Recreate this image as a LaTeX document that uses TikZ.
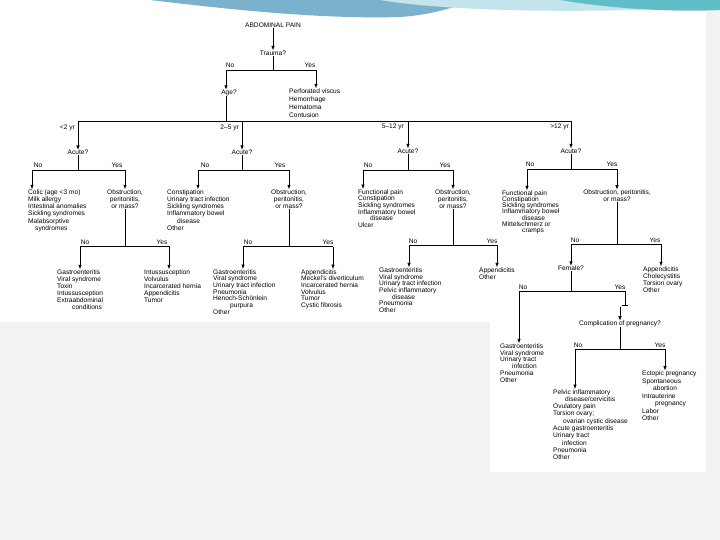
\documentclass[tikz,border=0pt]{standalone}
\usepackage{fontspec}
\setmainfont{Liberation Sans}
\usetikzlibrary{arrows.meta}
\definecolor{bggray}{RGB}{242,242,242}
\definecolor{swblue}{RGB}{122,178,206}
\definecolor{swlight}{RGB}{196,228,236}
\definecolor{swteal}{RGB}{96,190,200}
\begin{document}
\begin{tikzpicture}[x=1pt,y=-1pt,
  every node/.style={inner sep=0pt, font=\fontsize{6.6}{7}\selectfont},
  lst/.style={align=left, anchor=north west, font=\fontsize{6.6}{#1}\selectfont},
  lst/.default=7,
  ctr/.style={align=center, anchor=north},
  ln/.style={line width=0.7pt, draw=black},
  arr/.style={ln, -{Latex[length=4.5pt,width=3.4pt]}}]
\useasboundingbox (0,0) rectangle (720,540);
% background
\fill[bggray] (0,0) rectangle (720,540);
\fill[white] (0,0) -- (706,0) -- (706,472) -- (490,472) -- (490,322) -- (0,322) -- cycle;
\fill[swblue] (150,0) .. controls (250,12) and (330,19) .. (400,17) .. controls (430,15) and (455,8) .. (470,0) -- cycle;
\fill[swlight] (380,0) .. controls (450,12) and (600,14) .. (720,6) -- (720,0) -- cycle;
\fill[swteal] (560,0) .. controls (620,10) and (680,12) .. (720,10) -- (720,0) -- cycle;

% top
\node (title) at (273,25) {ABDOMINAL PAIN};
\node (trauma) at (273,53) {Trauma?};
\draw[arr] (title.south) -- (trauma.north);
\coordinate (tL) at (226,70); \coordinate (tR) at (316,70);
\draw[ln] (trauma.south) -- (trauma.south |- tL);
\draw[ln] (tL) -- (tR);
\node (tNo) at (230,65.5) {No};
\node (tYes) at (310,65.5) {Yes};
\node (age) at (229,93) {Age?};
\node[lst=7.9] (inj) at (289,88.4) {Perforated viscus\\Hemorrhage\\Hematoma\\Contusion};
\draw[arr] (tL) -- (tL |- age.north);
\draw[arr] (tR) -- (tR |- inj.north);

% age split
\coordinate (a1) at (78,121); \coordinate (a2) at (242,121);
\coordinate (a3) at (408,121); \coordinate (a4) at (571,121);
\coordinate (aM) at (226,121);
\draw[ln] (aM |- age.south) -- (aM);
\draw[ln] (a1) -- (a4);
\node[anchor=east] (g1) at (75,128) {<2 yr};
\node[anchor=east] (g2) at (239,128) {2--5 yr};
\node[anchor=east] (g3) at (404,127) {5--12 yr};
\node[anchor=east] (g4) at (569,127) {>12 yr};
\node (ac1) at (78,152.5) {Acute?};
\node (ac2) at (242,152.5) {Acute?};
\node (ac3) at (408,151) {Acute?};
\node (ac4) at (571,151) {Acute?};
\draw[arr] (a1) -- (ac1.north);
\draw[arr] (a2) -- (ac2.north);
\draw[arr] (a3) -- (ac3.north);
\draw[arr] (a4) -- (ac4.north);

% acute splits
\coordinate (s1L) at (32,170); \coordinate (s1R) at (125,170);
\coordinate (s2L) at (198,170); \coordinate (s2R) at (289,170);
\coordinate (s3L) at (363,170); \coordinate (s3R) at (453,170);
\coordinate (s4L) at (527,169); \coordinate (s4R) at (617,169);
\foreach \a/\l/\r in {ac1/s1L/s1R, ac2/s2L/s2R, ac3/s3L/s3R, ac4/s4L/s4R}{
  \draw[ln] (\a.south) -- (\a.south |- \l);
  \draw[ln] (\l) -- (\r);
}
\node (n1) at (38,165) {No};  \node (y1) at (117,165) {Yes};
\node (n2) at (205,165) {No}; \node (y2) at (280,165) {Yes};
\node (n3) at (368,165) {No}; \node (y3) at (445,165) {Yes};
\node (n4) at (530,164.5) {No}; \node (y4) at (612,164.5) {Yes};

\node[lst=7.2] (L1) at (28,189.4) {Colic (age <3 mo)\\Milk allergy\\Intestinal anomalies\\Sickling syndromes\\Malabsorptive\\\hspace*{7pt}syndromes};
\node[ctr] (O1) at (125,189.4) {Obstruction,\\peritonitis,\\or mass?};
\node[lst=7.2] (L2) at (167,189.4) {Constipation\\Urinary tract infection\\Sickling syndromes\\Inflammatory bowel\\\hspace*{10pt}disease\\Other};
\node[ctr] (O2) at (289,189.4) {Obstruction,\\peritonitis,\\or mass?};
\node[lst=6.7] (L3) at (358,189.1) {Functional pain\\Constipation\\Sickling syndromes\\Inflammatory bowel\\\hspace*{12pt}disease\\Ulcer};
\node[ctr] (O3) at (453,189.4) {Obstruction,\\peritonitis,\\or mass?};
\node[lst=6.2] (L4) at (502,190.4) {Functional pain\\Constipation\\Sickling syndromes\\Inflammatory bowel\\\hspace*{20pt}disease\\Mittelschmerz or\\\hspace*{20pt}cramps};
\node[ctr] (O4) at (617,189.7) {Obstruction, peritonitis,\\or mass?};
\draw[arr] (s1L) -- (s1L |- L1.north);
\draw[arr] (s1R) -- (O1.north);
\draw[arr] (s2L) -- (s2L |- L2.north);
\draw[arr] (s2R) -- (O2.north);
\draw[arr] (s3L) -- (s3L |- L3.north);
\draw[arr] (s3R) -- (O3.north);
\draw[arr] (s4L) -- (s4L |- L4.north);
\draw[arr] (s4R) -- (O4.north);

% obstruction splits
\coordinate (o1L) at (80,246); \coordinate (o1R) at (169,246);
\coordinate (o2L) at (243,246.5); \coordinate (o2R) at (333,246.5);
\coordinate (o3L) at (409,245); \coordinate (o3R) at (497,245);
\coordinate (o4L) at (571,244); \coordinate (o4R) at (661,244);
\foreach \a/\l/\r in {O1/o1L/o1R, O2/o2L/o2R, O3/o3L/o3R, O4/o4L/o4R}{
  \draw[ln] (\a.south) -- (\a.south |- \l);
  \draw[ln] (\l) -- (\r);
}
\node (n5) at (85,242) {No};   \node (y5) at (162,242) {Yes};
\node (n6) at (248,242) {No};  \node (y6) at (328,242) {Yes};
\node (n7) at (413,241) {No};  \node (y7) at (492,241) {Yes};
\node (n8) at (575,240) {No};  \node (y8) at (655,240) {Yes};

\node[lst=7] (A1) at (57,269.4) {Gastroenteritis\\Viral syndrome\\Toxin\\Intussusception\\Extraabdominal\\\hspace*{15pt}conditions};
\node[lst=7] (B1) at (144,269.4) {Intussusception\\Volvulus\\Incarcerated hernia\\Appendicitis\\Tumor};
\node[lst=6.7] (A2) at (213,269.1) {Gastroenteritis\\Viral syndrome\\Urinary tract infection\\Pneumonia\\Henoch-Schönlein\\\hspace*{17pt}purpura\\Other};
\node[lst=6.7] (B2) at (301,269.1) {Appendicitis\\Meckel's diverticulum\\Incarcerated hernia\\Volvulus\\Tumor\\Cystic fibrosis};
\node[lst=6.7] (A3) at (379,267.4) {Gastroenteritis\\Viral syndrome\\Urinary tract infection\\Pelvic inflammatory\\\hspace*{13pt}disease\\Pneumonia\\Other};
\node[lst=6.7] (B3) at (479,267.4) {Appendicitis\\Other};
\node (fem) at (571,268.5) {Female?};
\node[lst=7.2] (B4) at (643,266.4) {Appendicitis\\Cholecystitis\\Torsion ovary\\Other};
\draw[arr] (o1L) -- (o1L |- A1.north);
\draw[arr] (o1R) -- (o1R |- B1.north);
\draw[arr] (o2L) -- (o2L |- A2.north);
\draw[arr] (o2R) -- (o2R |- B2.north);
\draw[arr] (o3L) -- (o3L |- A3.north);
\draw[arr] (o3R) -- (o3R |- B3.north);
\draw[arr] (o4L) -- (fem.north);
\draw[arr] (o4R) -- (o4R |- B4.north);

% female split
\coordinate (fL) at (519,291); \coordinate (fR) at (625,291);
\coordinate (fT) at (625,305); \coordinate (cA) at (620,307);
\draw[ln] (fem.south) -- (fem.south |- fL);
\draw[ln] (fL) -- (fR) -- (fT);
\draw[ln] (622,305) -- (628,305);
\node (n9) at (523,287) {No}; \node (y9) at (620,287) {Yes};
\node (comp) at (620,324) {Complication of pregnancy?};
\node[lst=6.8] (C) at (500,343.4) {Gastroenteritis\\Viral syndrome\\Urinary tract\\\hspace*{12pt}infection\\Pneumonia\\Other};
\draw[arr] (cA) -- (comp.north);
\draw[arr] (fL) -- (fL |- C.north);

% pregnancy split
\coordinate (cL) at (575,349); \coordinate (cR) at (665,349);
\draw[ln] (comp.south) -- (comp.south |- cL);
\draw[ln] (cL) -- (cR);
\node (n10) at (578,345.5) {No}; \node (y10) at (660,345.5) {Yes};
\node[lst=7.3] (P) at (553,389.1) {Pelvic inflammatory\\\hspace*{12pt}disease/cervicitis\\Ovulatory pain\\Torsion ovary;\\\hspace*{10pt}ovarian cystic disease\\Acute gastroenteritis\\Urinary tract\\\hspace*{9pt}infection\\Pneumonia\\Other};
\node[lst=7.5] (E) at (642,370.7) {Ectopic pregnancy\\Spontaneous\\\hspace*{11pt}abortion\\Intrauterine\\\hspace*{13pt}pregnancy\\Labor\\Other};
\draw[arr] (cL) -- (cL |- P.north);
\draw[arr] (cR) -- (cR |- E.north);
\end{tikzpicture}
\end{document}
